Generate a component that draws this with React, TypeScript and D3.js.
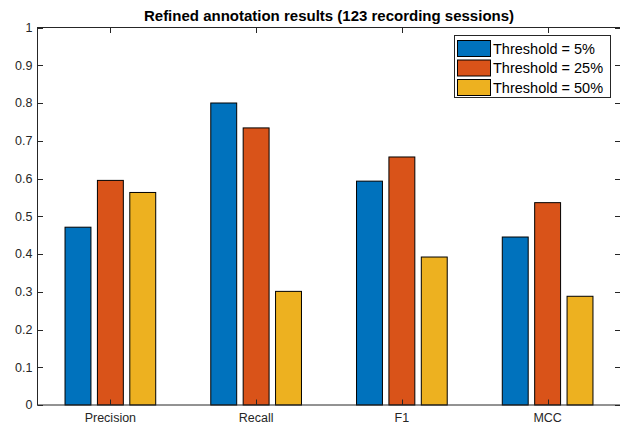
import React, { useRef, useEffect } from "react";
import * as d3 from "d3";

const categories = ["Precision", "Recall", "F1", "MCC"];
const seriesNames = ["Threshold = 5%", "Threshold = 25%", "Threshold = 50%"];
const seriesColors = ["#0072BD", "#D95319", "#EDB120"];
const threshold5 = [0.471, 0.8, 0.593, 0.445];
const threshold25 = [0.595, 0.734, 0.657, 0.536];
const threshold50 = [0.563, 0.301, 0.392, 0.288];
const yTicks = [0, 0.1, 0.2, 0.3, 0.4, 0.5, 0.6, 0.7, 0.8, 0.9, 1];

const W = 620;
const H = 425;
const font = "'Liberation Sans', Arial, Helvetica, sans-serif";
const axisColor = "#262626";

export default function App() {
  const svgRef = useRef<SVGSVGElement>(null);

  useEffect(() => {
    if (!svgRef.current) return;
    const svg = d3.select(svgRef.current);
    svg.selectAll("*").remove();

    const left = 37.5, right = 620.5, top = 27.5, bottom = 405;
    const x = d3.scaleLinear().domain([0.5, 4.5]).range([left, right]);
    const y = d3.scaleLinear().domain([0, 1]).range([bottom, top]);

    // matlab grouped bar geometry
    const nSeries = 3;
    const groupWidth = Math.min(0.8, nSeries / (nSeries + 1.5));
    const pitch = groupWidth / nSeries;
    const barW = pitch * 0.8;

    const series = [threshold5, threshold25, threshold50];

    const bars = svg.append("g");
    series.forEach((vals, s) => {
      bars.selectAll(`.bar-${s}`)
        .data(vals)
        .enter()
        .append("rect")
        .attr("x", (_, i) => x(i + 1 + (s - 1) * pitch - barW / 2))
        .attr("width", (_, i) => x(i + 1 + barW / 2) - x(i + 1 - barW / 2))
        .attr("y", d => y(d))
        .attr("height", d => y(0) - y(d))
        .attr("fill", seriesColors[s])
        .attr("stroke", "#000")
        .attr("stroke-width", 1);
    });

    // box + ticks
    const ax = svg.append("g").attr("stroke", axisColor).attr("stroke-width", 1).attr("fill", "none");
    ax.append("rect")
      .attr("x", left).attr("y", top)
      .attr("width", right - left).attr("height", bottom - top);

    const tl = 5.5;
    yTicks.forEach(t => {
      const yy = Math.round(y(t)) + 0.5;
      ax.append("line").attr("x1", left).attr("x2", left + tl).attr("y1", yy).attr("y2", yy);
      ax.append("line").attr("x1", right).attr("x2", right - tl).attr("y1", yy).attr("y2", yy);
    });
    categories.forEach((_, i) => {
      const xx = Math.round(x(i + 1)) + 0.5;
      ax.append("line").attr("x1", xx).attr("x2", xx).attr("y1", bottom).attr("y2", bottom - tl);
      ax.append("line").attr("x1", xx).attr("x2", xx).attr("y1", top).attr("y2", top + tl);
    });

    // tick labels
    svg.append("g").selectAll("text")
      .data(yTicks)
      .enter()
      .append("text")
      .attr("x", left - 5)
      .attr("y", d => y(d))
      .attr("dy", "0.35em")
      .attr("text-anchor", "end")
      .attr("font-family", font)
      .attr("font-size", 12.5)
      .attr("fill", axisColor)
      .text(d => d3.format("~g")(d));

    svg.append("g").selectAll("text")
      .data(categories)
      .enter()
      .append("text")
      .attr("x", (_, i) => x(i + 1))
      .attr("y", bottom + 17)
      .attr("text-anchor", "middle")
      .attr("font-family", font)
      .attr("font-size", 12.5)
      .attr("fill", axisColor)
      .text(d => d);

    svg.append("text")
      .attr("x", (left + right) / 2)
      .attr("y", 21)
      .attr("text-anchor", "middle")
      .attr("font-family", font)
      .attr("font-size", 15)
      .attr("font-weight", "bold")
      .attr("fill", "#000")
      .text("Refined annotation results (123 recording sessions)");

    // legend
    const lg = svg.append("g").attr("transform", "translate(454.5,35.5)");
    lg.append("rect")
      .attr("width", 156).attr("height", 62)
      .attr("fill", "#fff").attr("stroke", axisColor).attr("stroke-width", 1);
    seriesNames.forEach((name, s) => {
      const ry = 5 + s * 19.5;
      lg.append("rect")
        .attr("x", 3).attr("y", ry)
        .attr("width", 33).attr("height", 16)
        .attr("fill", seriesColors[s]).attr("stroke", "#000").attr("stroke-width", 1);
      lg.append("text")
        .attr("x", 38.5).attr("y", ry + 8)
        .attr("dy", "0.36em")
        .attr("font-family", font)
        .attr("font-size", 14.5)
        .attr("fill", "#000")
        .text(name);
    });
  }, []);

  return (
    <div style={{ position: "absolute", left: 0, top: 0, width: W, height: H, background: "#fff" }}>
      <svg ref={svgRef} width={W} height={H} style={{ display: "block" }} />
    </div>
  );
}
